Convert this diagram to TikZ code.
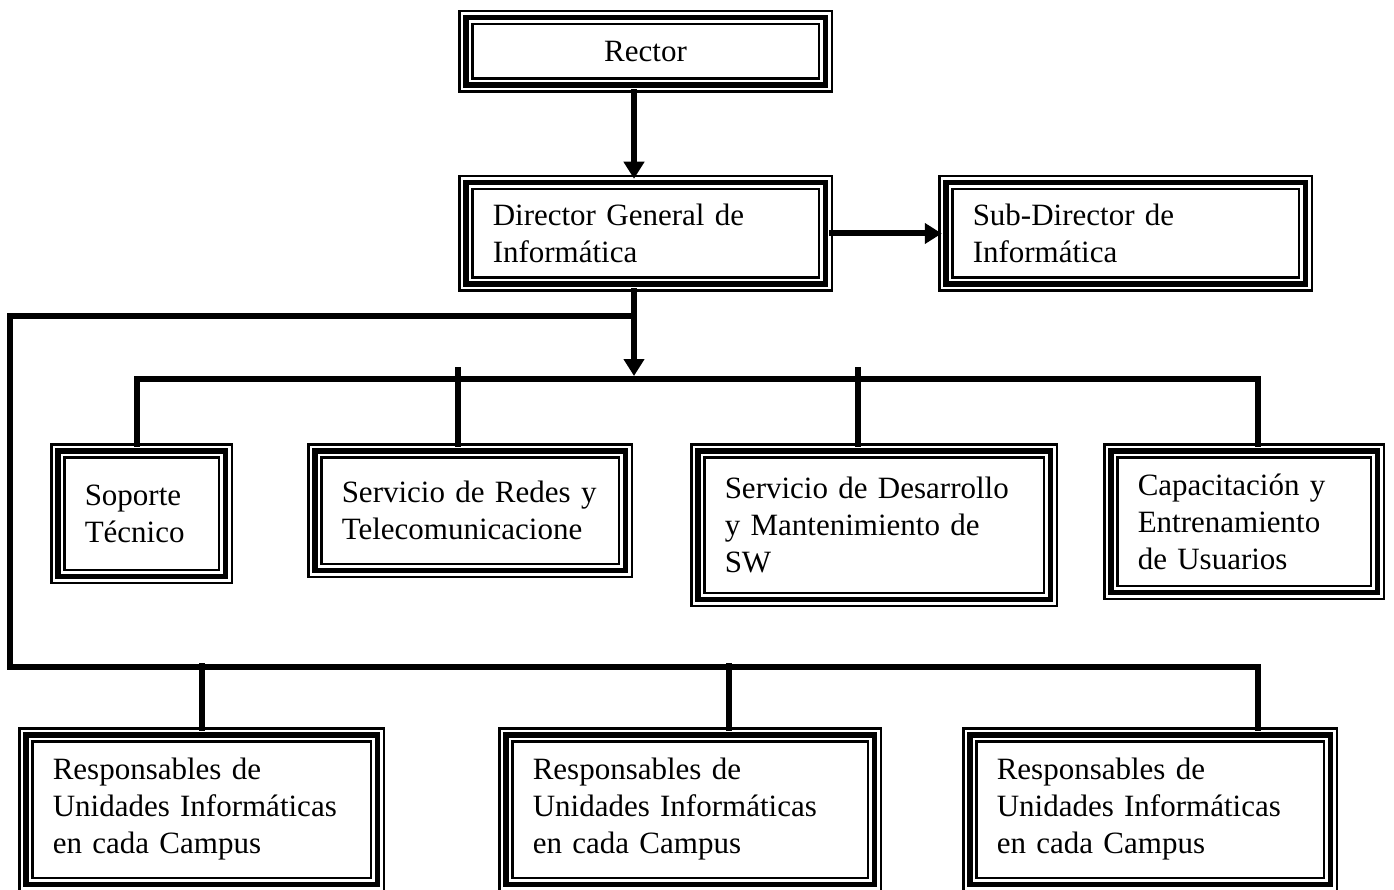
\documentclass[tikz,border=0pt]{standalone}
\usepackage{fontspec}
\setmainfont{Liberation Serif}
\usetikzlibrary{arrows.meta}

\tikzset{
  orgbox/.style={rectangle, draw=black, line width=5.5pt,
    preaction={draw=black, line width=15.5pt},
    preaction={draw=white, line width=10.5pt},
    inner xsep=27pt, inner ysep=0pt, outer sep=4pt, align=left,
    font=\fontsize{31}{37}\selectfont},
  orgline/.style={line width=6pt},
  orgarrow/.style={line width=6pt, -{Triangle[width=20pt,length=17pt]}}
}

\begin{document}
\begin{tikzpicture}[x=1pt,y=-1pt]
\useasboundingbox (0,0) rectangle (1394,890);

\node[orgbox, align=center, text width=305.5pt, minimum height=67.5pt] (rector) at (645.5,51.5) {Rector};
\node[orgbox, text width=305.5pt, minimum height=101.5pt] (dirgen) at (645.5,233.5) {Director General de\\Informática};
\node[orgbox, text width=305.5pt, minimum height=101.5pt] (subdir) at (1125.5,233.5) {Sub-Director de\\Informática};

\node[orgbox, text width=113.5pt, minimum height=125.5pt] (soporte) at (141.5,513.5) {Soporte\\Técnico};
\node[orgbox, text width=256.5pt, minimum height=119.5pt] (redes) at (470,510.5) {Servicio de Redes y\\Telecomunicacione};
\node[orgbox, text width=298.5pt, minimum height=148.5pt] (desarr) at (874,525) {Servicio de Desarrollo\\y Mantenimiento de\\SW};
\node[orgbox, text width=212.5pt, minimum height=141.5pt] (capac) at (1244,521.5) {Capacitación y\\Entrenamiento\\de Usuarios};

\foreach \n/\x/\w in {resp1/201.5/297.5, resp2/690/314.5, resp3/1150/306.5}
  \node[orgbox, text width=\w pt, minimum height=149.5pt] (\n) at (\x,809.5) {Responsables de\\Unidades Informáticas\\en cada Campus};

\coordinate (sp) at (634,316);
\coordinate (lt) at (10,316);
\coordinate (lb) at (10,667);
\coordinate (rb) at (1258,667);
\coordinate (b2l) at (137,379);
\coordinate (b2m) at (634,376);
\coordinate (b2r) at (1258,379);

\draw[orgarrow] (rector.south -| sp) -- (dirgen.north -| sp);
\draw[orgarrow] (dirgen.east) -- (subdir.west);
\draw[orgarrow] (dirgen.south -| sp) -- (b2m);

\draw[orgline] (sp) -- (lt) -- (lb) -- (rb) -- (rb |- resp3.north);
\draw[orgline] (b2l |- soporte.north) -- (b2l) -- (b2r) -- (b2r |- capac.north);

\foreach \x/\y/\n in {458/367/redes, 858/367/desarr, 202/663/resp1, 729/663/resp2} {
  \coordinate (top) at (\x,\y);
  \draw[orgline] (top) -- (top |- \n.north);
}
\end{tikzpicture}
\end{document}
